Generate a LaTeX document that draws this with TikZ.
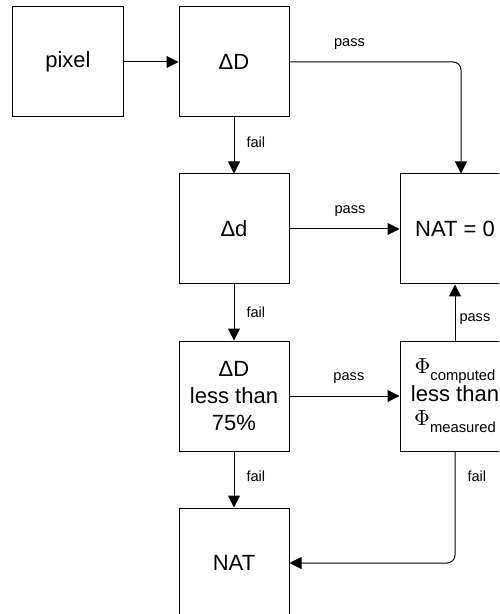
\documentclass[tikz,border=0pt]{standalone}
\usepackage{fontspec}
\setmainfont{Liberation Sans}
\usetikzlibrary{arrows.meta,positioning}
% Phi with a subscript word
\newcommand{\phisub}[1]{{\fontsize{11}{11}\selectfont$\Phi$}\raisebox{-3.5pt}{\fontsize{7.4}{8}\selectfont #1}}

\begin{document}
\begin{tikzpicture}[
        node distance=28pt and 27.5pt,
        line width=0.5pt,
        box/.style={rectangle, draw, minimum width=55pt, minimum height=55pt,
            inner sep=1pt, align=center, font=\fontsize{11}{13.5}\selectfont},
        flow/.style={-{Triangle[length=6pt,width=6pt]}, rounded corners=4pt},
        tag/.style={font=\fontsize{7.3}{8}\selectfont, inner sep=1pt}
    ]
        \clip (-34pt,31pt) rectangle (215.5pt,-276pt);
        \node[box] (pixel) at (0,0) {pixel};
        \node[box, right=of pixel] (dD) {ΔD};
        \node[box, below=of dD] (dd) {Δd};
        \node[box, below=of dd] (less) {ΔD\\less than\\75\%};
        \node[box, below=of less] (nat) {NAT};
        \node[box, right=55pt of dd] (nat0) {NAT = 0};
        \node[box, right=55pt of less, font=\fontsize{11}{12}\selectfont] (phi) {\phisub{computed}\\less than\\\phisub{measured}};

        % Connections
        \draw[flow] (pixel) -- (dD);
        \draw[flow] (dD.east) -| node[tag, pos=0.175, above=5pt] {pass} ([xshift=3pt]nat0.north);
        \draw[flow] (dD) -- node[tag, right=5pt, pos=0.45] {fail} (dd);
        \draw[flow] (dd) -- node[tag, above=5pt, pos=0.55] {pass} (nat0);
        \draw[flow] (dd) -- node[tag, right=5pt] {fail} (less);
        \draw[flow] (less) -- node[tag, above=5pt, pos=0.54] {pass} (phi);
        \draw[flow] (less) -- node[tag, right=5pt, pos=0.45] {fail} (nat);
        \draw[flow] (phi) -- node[tag, right=1pt, pos=0.38] {pass} (nat0);
        \draw[flow] (phi.south) |- node[tag, pos=0.11, right=5pt] {fail} (nat.east);
    \end{tikzpicture}
\end{document}
